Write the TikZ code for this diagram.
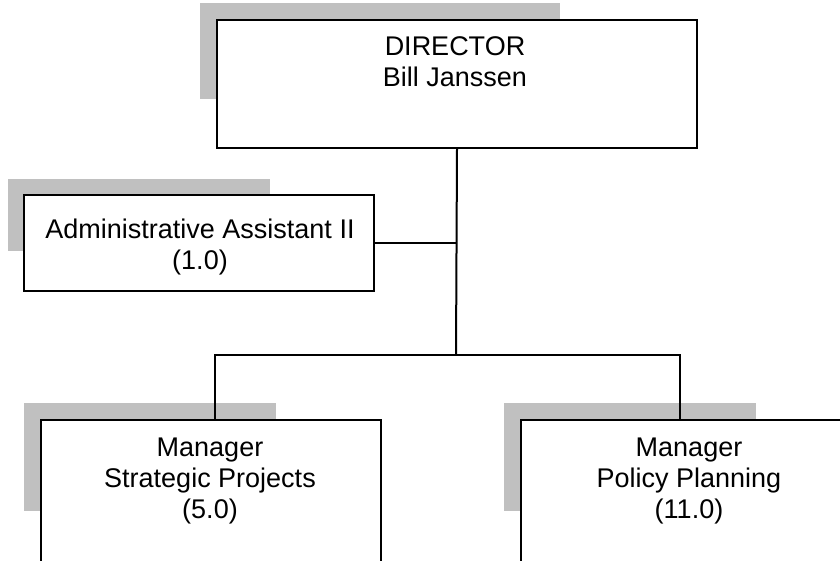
\documentclass[tikz,border=0pt]{standalone}
\usepackage{fontspec}
\setmainfont{Liberation Sans}
\usetikzlibrary{calc}
\definecolor{shadowgray}{RGB}{192,192,192}
\begin{document}
\begin{tikzpicture}[x=1pt,y=-1pt,
  box/.style={draw=black, line width=2pt, fill=white, rectangle, inner sep=0pt, anchor=north west},
  shadowbox/.style={fill=shadowgray, draw=none, rectangle, inner sep=0pt, anchor=north west},
  lbl/.style={align=center, inner sep=0pt, anchor=north, font=\fontsize{27}{31.2}\selectfont},
  conn/.style={draw=black, line width=2pt}]
\useasboundingbox (0,0) rectangle (840,560);
\clip (0,0) rectangle (840,560);
% shadows
\node[shadowbox, minimum width=360pt, minimum height=96pt] (dirs) at (200,3) {};
\node[shadowbox, minimum width=262pt, minimum height=72pt] (adms) at (8,179) {};
\node[shadowbox, minimum width=252pt, minimum height=108pt] (lfts) at (24,403) {};
\node[shadowbox, minimum width=252pt, minimum height=108pt] (rgts) at (504,403) {};
% boxes
\node[box, minimum width=480pt, minimum height=128pt] (dir) at (216,19) {};
\node[box, minimum width=350pt, minimum height=96pt] (adm) at (23,194) {};
\node[box, minimum width=340pt, minimum height=200pt] (lft) at (40,419) {};
\node[box, minimum width=340pt, minimum height=200pt] (rgt) at (520,419) {};
% labels
\node[lbl] (dirt) at (455,36.7) {DIRECTOR\\Bill Janssen};
\node[lbl] (admt) at (200,218.7) {Administrative Assistant II\\(1.0)};
\node[lbl] (lftt) at (210,437.7) {Manager\\Strategic Projects\\(5.0)};
\node[lbl] (rgtt) at (689,437.7) {Manager\\Policy Planning\\(11.0)};
% connectors
\coordinate (bus) at (456,355);
\coordinate (busL) at (215,355);
\coordinate (busR) at (680,355);
\draw[conn] (dir.south) -- (bus);
\draw[conn] (adm.east) -- (adm.east -| dir.south);
\draw[conn] (busL |- lft.north) -- (busL) -- (busR) -- (busR |- rgt.north);
\end{tikzpicture}
\end{document}
